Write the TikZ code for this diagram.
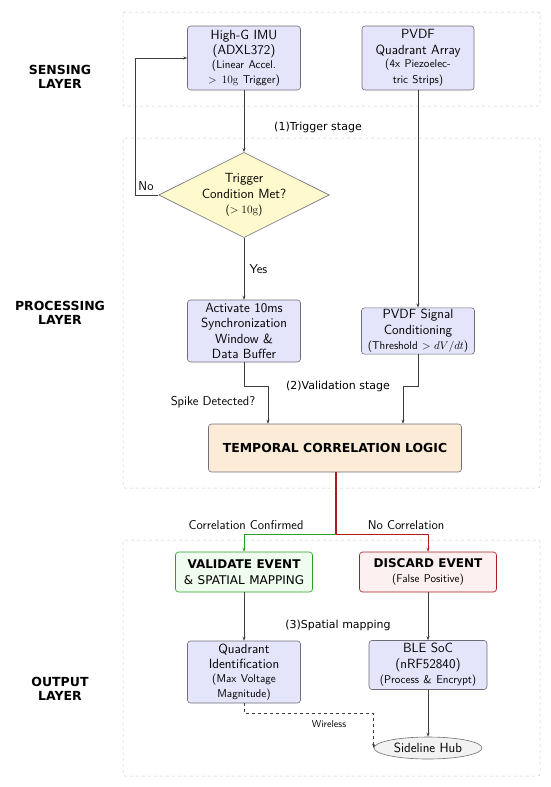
\documentclass[tikz,border=0pt]{standalone}
\usepackage{fontspec}
\usepackage{amsmath}
\usetikzlibrary{arrows.meta,shapes.geometric}
\newfontfamily\headfont{DejaVu Sans}
\definecolor{ink}{RGB}{60,60,60}
\definecolor{rule}{RGB}{200,200,200}
\definecolor{boxfill}{RGB}{228,228,250}
\definecolor{boxline}{RGB}{110,110,120}
\definecolor{decfill}{RGB}{255,250,205}
\definecolor{corrfill}{RGB}{252,236,215}
\definecolor{okline}{RGB}{40,160,40}
\definecolor{okfill}{RGB}{240,252,240}
\definecolor{badline}{RGB}{170,30,30}
\definecolor{badfill}{RGB}{253,240,240}
\newcommand{\mainsz}{\fontsize{13.3}{15.5}\selectfont}
\newcommand{\smallsz}{\fontsize{11.3}{13.5}\selectfont}

\begin{document}
\begin{tikzpicture}[x=1pt, y=-1pt, font=\sffamily\mainsz,
  layer/.style={draw=rule, dashed, line width=0.5pt, rounded corners=2pt},
  layername/.style={font=\headfont\bfseries\fontsize{12.5}{14}\selectfont, align=center},
  block/.style={draw=boxline, fill=boxfill, rounded corners=3pt, align=center, inner sep=1.5pt, line width=0.6pt},
  decision/.style={diamond, aspect=2, draw=boxline, fill=decfill, align=center, inner sep=0pt, line width=0.6pt},
  link/.style={draw=ink, line width=0.6pt, -{Stealth[length=4pt,width=3pt]}},
  stagelbl/.style={font=\headfont\fontsize{11}{13}\selectfont},
  lbl/.style={font=\sffamily\fontsize{12.8}{15}\selectfont}]
\useasboundingbox (0,0) rectangle (550,787);
% layer frames
\draw[layer] (123,12) rectangle (540,106);
\draw[layer] (123,138) rectangle (540,488);
\draw[layer] (123,540) rectangle (540,776);
\node[layername] (lsens) at (60,77) {SENSING\\LAYER};
\node[layername] (lproc) at (60,313) {PROCESSING\\LAYER};
\node[layername] (lout) at (60,689) {OUTPUT\\LAYER};
% sensing
\node[block, minimum width=113pt, minimum height=64pt, text width=109pt] (imu) at (244,58)
  {High-G IMU\\(ADXL372)\\\smallsz(Linear Accel.\\$>\mathrm{10g}$ Trigger)};
\node[block, minimum width=112pt, minimum height=64pt, text width=108pt] (pvdf) at (418,58)
  {PVDF\\Quadrant Array\\\smallsz(4x Piezoelec-\\tric Strips)};
% processing
\node[decision, minimum width=168pt, minimum height=84pt] (trig) at (244,195)
  {Trigger\\Condition Met?\\\smallsz($>\mathrm{10g}$)};
\node[block, minimum width=113pt, minimum height=62pt, text width=109pt] (sync) at (244,331)
  {Activate 10ms\\Synchronization\\Window \&\\Data Buffer};
\node[block, minimum width=112pt, minimum height=46pt, text width=110pt] (cond) at (418,331)
  {PVDF Signal\\Conditioning\\\smallsz(Threshold $>dV/dt$)};
\node[block, fill=corrfill, minimum width=253pt, minimum height=48pt] (corr) at (335,448)
  {\headfont\bfseries\fontsize{12.4}{14}\selectfont TEMPORAL CORRELATION LOGIC};
% output
\node[block, draw=okline, fill=okfill, minimum width=137pt, minimum height=40pt, text width=133pt] (valid) at (244,572)
  {\headfont\fontsize{12}{14}\selectfont\textbf{VALIDATE EVENT}\\\& SPATIAL MAPPING};
\node[block, draw=badline, fill=badfill, minimum width=137pt, minimum height=40pt, text width=133pt] (discard) at (428,572)
  {\headfont\bfseries\fontsize{12}{14}\selectfont DISCARD EVENT\\\sffamily\mdseries\smallsz(False Positive)};
\node[block, minimum width=113pt, minimum height=62pt, text width=109pt] (quad) at (244,672)
  {Quadrant\\Identification\\\smallsz(Max Voltage\\Magnitude)};
\node[block, minimum width=117pt, minimum height=49pt, text width=115pt] (ble) at (428,665)
  {BLE SoC\\(nRF52840)\\\smallsz(Process \& Encrypt)};
\node[ellipse, draw=boxline, fill=gray!10, line width=0.6pt, minimum width=108pt, minimum height=22pt, inner sep=1pt] (hub) at (428,748)
  {Sideline Hub};
% stage captions
\node[stagelbl] (st1) at (318,127) {(1)Trigger stage};
\node[stagelbl] (st2) at (338,386) {(2)Validation stage};
\node[stagelbl] (st3) at (338,625) {(3)Spatial mapping};
% trigger loop
\coordinate (noturn) at (135,195);
\draw[link] (imu) -- (trig);
\draw[link] (trig.west) -- (noturn) |- (imu.west);
\node[lbl] (no) at (146,186) {No};
\draw[link] (trig) -- (sync) node[lbl, midway, right=2pt] (yes) {Yes};
\draw[link] (pvdf) -- (cond);
% into correlation
\coordinate (ljoin) at (268,386);
\coordinate (rjoin) at (403,386);
\draw[link] (sync.south) |- (ljoin) -- (ljoin |- corr.north);
\node[lbl] (spike) at (213,402) {Spike Detected?};
\draw[link] (cond.south) |- (rjoin) -- (rjoin |- corr.north);
% decision split
\coordinate (split) at (336,534);
\draw[badline, line width=1.1pt] (split |- corr.south) -- (split);
\draw[okline, line width=0.8pt, -{Stealth[length=4pt,width=3pt]}] (split) -| (valid.north);
\draw[badline!85!red, line width=0.8pt, -{Stealth[length=4pt,width=3pt]}] (split) -| (discard.north);
\node[lbl] (conf) at (246,525) {Correlation Confirmed};
\node[lbl] (nocorr) at (406,525) {No Correlation};
% output chain
\coordinate (wturn) at (244,713);
\draw[link] (valid) -- (quad);
\draw[link] (discard) -- (ble);
\draw[link] (ble) -- (hub);
\draw[link, dashed] (quad.south) -- (wturn) -| (hub.west);
\node[lbl, font=\sffamily\fontsize{10}{12}\selectfont] (wl) at (329,724) {Wireless};
\end{tikzpicture}
\end{document}
